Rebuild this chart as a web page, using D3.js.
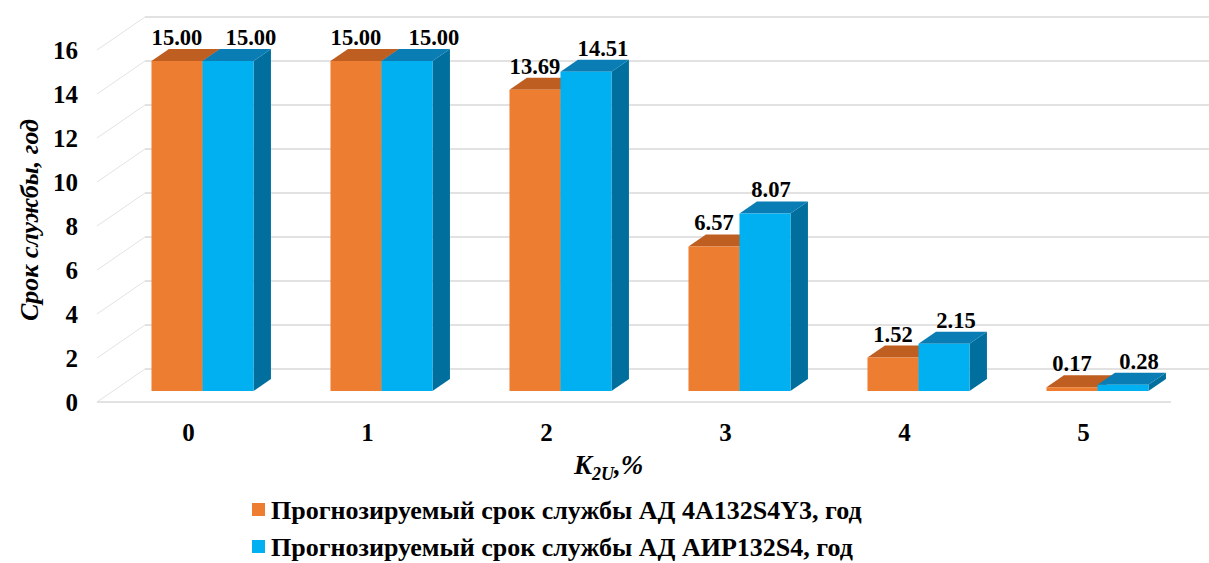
<!DOCTYPE html>
<html><head><meta charset="utf-8"><script src="https://cdn.jsdelivr.net/npm/d3@7"></script></head>
<body style="margin:0;background:#fff">
<svg id="chart" width="1209" height="563"></svg>
<script>
// Unbalance coefficient K2U, %
const categories = ["0", "1", "2", "3", "4", "5"];
// Predicted service life, years
const motorA = [15.00, 15.00, 13.69, 6.57, 1.52, 0.17];   // 4A132S4Y3
const motorB = [15.00, 15.00, 14.51, 8.07, 2.15, 0.28];   // AИP132S4
const seriesNames = [
  "Прогнозируемый срок службы АД 4А132S4Y3, год",
  "Прогнозируемый срок службы АД АИР132S4, год"
];
const yTicks = [0, 2, 4, 6, 8, 10, 12, 14, 16];
// horizontal nudge of the second series' value labels
const labelShiftB = [23, 27, 17, 6, 12, 16];

const svg = d3.select("#chart");

// Oblique 3D projection: front plane scales + depth offset
const DX = 48, DY = 33;              // full depth of the plot box on screen
const zFront = 0.333, zBack = 0.697; // depth extent of the bars
const x = d3.scaleBand().domain(categories).range([97, 1171]).paddingInner(0).paddingOuter(0);
const y = d3.scaleLinear().domain([0, 16]).range([402, 50]);
const P = (px, v, z) => [px + z * DX, y(v) - z * DY];

const colors = [
  { front: "#ED7D31", top: "#BE5E21", side: "#A9521C" },
  { front: "#00B0F0", top: "#0A7DB5", side: "#006F9D" }
];

// serif bold label helper
function label(parent, size) {
  return parent.append("text")
    .style("font-family", '"Liberation Serif", "Times New Roman", serif')
    .attr("font-weight", "bold")
    .attr("font-size", size)
    .attr("fill", "#000");
}

const grid = svg.append("g");
const x0 = x.range()[0], x1 = x.range()[1];

// back wall gridlines
yTicks.forEach(v => {
  const a = P(x0, v, 1);
  grid.append("line").attr("x1", a[0]).attr("y1", a[1]).attr("x2", x1 + DX).attr("y2", a[1])
    .attr("stroke", "#D9D9D9").attr("stroke-width", 1.5);
});
// side wall lines
yTicks.forEach(v => {
  const a = P(x0, v, 0), b = P(x0, v, 1);
  grid.append("line").attr("x1", a[0]).attr("y1", a[1]).attr("x2", b[0]).attr("y2", b[1])
    .attr("stroke", "#E3E3E3").attr("stroke-width", 1);
});
// floor front edge
{
  const a = P(x0, 0, 0), b = P(x1, 0, 0);
  grid.append("line").attr("x1", a[0]).attr("y1", a[1]).attr("x2", b[0]).attr("y2", b[1])
    .attr("stroke", "#D9D9D9").attr("stroke-width", 1.5);
}

// bars
const barW = 51;
const series = [motorA, motorB];
const bars = svg.append("g");
const poly = pts => pts.map(p => p.join(",")).join(" ");

categories.forEach((c, i) => {
  const start = x(c) + (x.bandwidth() - 2 * barW) / 2;
  series.forEach((vals, s) => {
    const v = vals[i];
    const l = start + s * barW, r = l + barW;
    const col = colors[s];
    const g = bars.append("g");
    g.append("polygon").attr("fill", col.side).attr("points", poly([
      P(r, 0, zFront), P(r, 0, zBack), P(r, v, zBack), P(r, v, zFront)
    ]));
    g.append("polygon").attr("fill", col.top).attr("points", poly([
      P(l, v, zFront), P(r, v, zFront), P(r, v, zBack), P(l, v, zBack)
    ]));
    g.append("polygon").attr("fill", col.front).attr("points", poly([
      P(l, 0, zFront), P(r, 0, zFront), P(r, v, zFront), P(l, v, zFront)
    ]));
  });
});

// value labels
const labels = svg.append("g");
categories.forEach((c, i) => {
  const start = x(c) + (x.bandwidth() - 2 * barW) / 2;
  series.forEach((vals, s) => {
    const v = vals[i];
    const cx = P(start + s * barW + barW / 2, v, zFront)[0] + (s === 1 ? labelShiftB[i] : 0);
    const topY = P(0, v, zBack)[1];
    label(labels, 24).attr("text-anchor", "middle")
      .attr("transform", `translate(${cx},${topY - 4}) scale(0.94,1)`)
      .text(v.toFixed(2));
  });
});

// y tick labels
const yl = svg.append("g");
yTicks.forEach(v => {
  label(yl, 25).attr("x", 78).attr("y", y(v)).attr("dy", "0.34em")
    .attr("text-anchor", "end").text(v);
});

// category labels
const xl = svg.append("g");
categories.forEach(c => {
  label(xl, 25).attr("x", x(c) + x.bandwidth() / 2 + 2).attr("y", 441)
    .attr("text-anchor", "middle").text(c);
});

// axis titles
label(svg, 26)
  .attr("transform", "translate(38,220) rotate(-90)")
  .attr("text-anchor", "middle").attr("font-style", "italic")
  .text("Срок службы, год");

const xt = label(svg, 27).attr("x", 574).attr("y", 474).attr("font-style", "italic");
xt.append("tspan").text("K");
xt.append("tspan").attr("font-size", 18).attr("dy", 6).text("2U");
xt.append("tspan").attr("dy", -6).text(",%");

// legend
const legend = svg.append("g");
seriesNames.forEach((name, s) => {
  const ly = 510 + s * 37;
  legend.append("rect").attr("x", 252).attr("y", ly - 7).attr("width", 13).attr("height", 13)
    .attr("fill", colors[s].front);
  label(legend, 26).attr("x", 271).attr("y", ly).attr("dy", "0.34em").text(name);
});
</script>
</body></html>
